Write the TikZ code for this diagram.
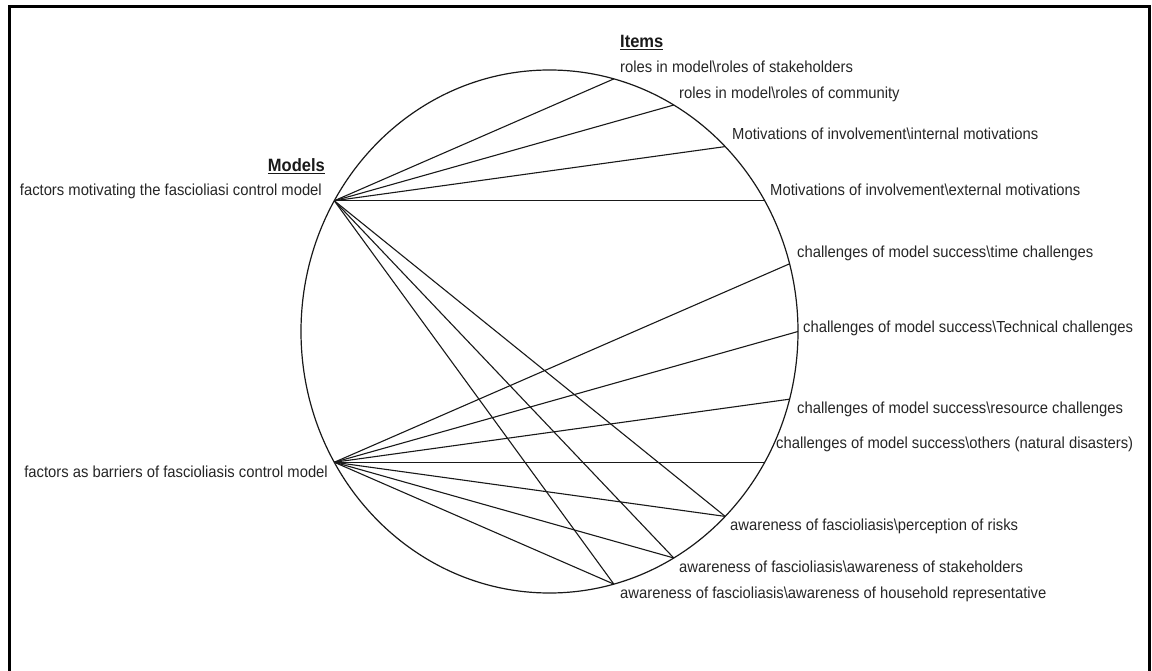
\documentclass[tikz,border=0pt]{standalone}
\usepackage{fontspec}
\usepackage{graphicx}
\setmainfont{Liberation Sans}
\usetikzlibrary{calc}
% slightly taller lettering for the labels
\newcommand{\tallbox}[1]{\scalebox{1}[1.08]{#1}}
\begin{document}
\begin{tikzpicture}[x=1pt,y=-1pt,
  itemlabel/.style={anchor=base west,inner sep=0pt,font=\fontsize{14.8}{17}\selectfont,text=black!85},
  modellabel/.style={anchor=base east,inner sep=0pt,font=\fontsize{14.8}{17}\selectfont,text=black!85},
  heading/.style={inner sep=0pt,font=\bfseries\fontsize{16.5}{19}\selectfont,text=black!90},
  link/.style={line width=1.1pt,draw=black!90},
]
\useasboundingbox (0,0) rectangle (1152,671);
\fill[white] (0,0) rectangle (1152,671);
\clip (0,0) rectangle (1152,671);

% outer frame
\draw[line width=3pt] (9.5,6.5) rectangle (1149.5,700);

% ring
\coordinate (C) at (549.5,331.5);
\draw[line width=1.2pt,black!90] (C) ellipse [x radius=248.5pt, y radius=261.5pt];

% attachment points on the ring
\coordinate (m1) at ($(C)+(-150:248.5 and 261.5)$);
\coordinate (m2) at ($(C)+(150:248.5 and 261.5)$);
\coordinate (i1) at ($(C)+(-75:248.5 and 261.5)$);
\coordinate (i2) at ($(C)+(-60:248.5 and 261.5)$);
\coordinate (i3) at ($(C)+(-45:248.5 and 261.5)$);
\coordinate (i4) at ($(C)+(-30:248.5 and 261.5)$);
\coordinate (i5) at ($(C)+(-15:248.5 and 261.5)$);
\coordinate (i6) at ($(C)+(0:248.5 and 261.5)$);
\coordinate (i7) at ($(C)+(15:248.5 and 261.5)$);
\coordinate (i8) at ($(C)+(30:248.5 and 261.5)$);
\coordinate (i9) at ($(C)+(45:248.5 and 261.5)$);
\coordinate (i10) at ($(C)+(60:248.5 and 261.5)$);
\coordinate (i11) at ($(C)+(75:248.5 and 261.5)$);

% headings
\node[heading,anchor=base west] (itemshead) at (620,48) {\tallbox{\underline{Items}}};
\node[heading,anchor=base east] (modelshead) at (325,172) {\tallbox{\underline{Models}}};

% model labels
\node[modellabel] (lm1) at (322,196) {\tallbox{factors motivating the fascioliasi control model}};
\node[modellabel] (lm2) at (328,477) {\tallbox{factors as barriers of fascioliasis control model}};

% item labels
\node[itemlabel] (li1) at (620,73) {\tallbox{roles in model\textbackslash roles of stakeholders}};
\node[itemlabel] (li2) at (679,99) {\tallbox{roles in model\textbackslash roles of community}};
\node[itemlabel] (li3) at (732,140) {\tallbox{Motivations of involvement\textbackslash internal motivations}};
\node[itemlabel] (li4) at (770,196) {\tallbox{Motivations of involvement\textbackslash external motivations}};
\node[itemlabel] (li5) at (797,258) {\tallbox{challenges of model success\textbackslash time challenges}};
\node[itemlabel] (li6) at (803,332) {\tallbox{challenges of model success\textbackslash Technical challenges}};
\node[itemlabel] (li7) at (797,413) {\tallbox{challenges of model success\textbackslash resource challenges}};
\node[itemlabel] (li8) at (776,448) {\tallbox{challenges of model success\textbackslash others (natural disasters)}};
\node[itemlabel] (li9) at (730,530) {\tallbox{awareness of fascioliasis\textbackslash perception of risks}};
\node[itemlabel] (li10) at (679,572) {\tallbox{awareness of fascioliasis\textbackslash awareness of stakeholders}};
\node[itemlabel] (li11) at (620,598) {\tallbox{awareness of fascioliasis\textbackslash awareness of household representative}};

% links from the first model
\foreach \t in {i1,i2,i3,i4,i9,i10,i11}
  \draw[link] (m1) -- (\t);
% links from the second model
\foreach \t in {i5,i6,i7,i8,i9,i10,i11}
  \draw[link] (m2) -- (\t);
\end{tikzpicture}
\end{document}
